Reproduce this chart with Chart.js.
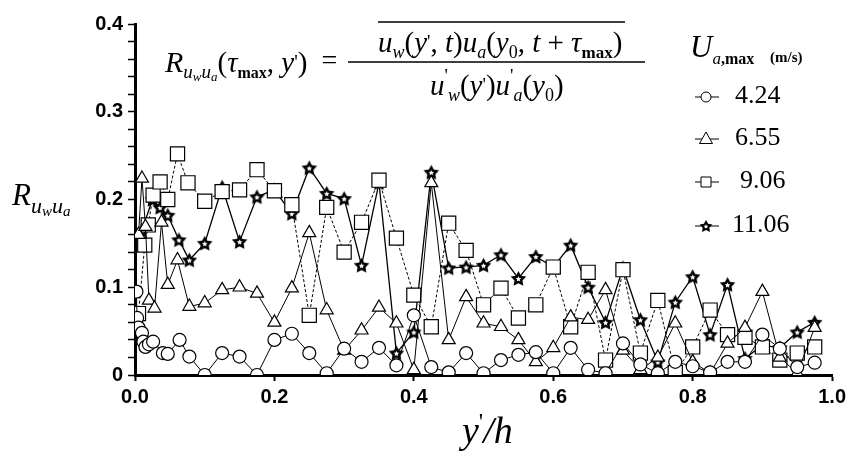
<!DOCTYPE html>
<html>
<head>
<meta charset="utf-8">
<script src="https://cdn.jsdelivr.net/npm/chart.js@4.4.0/dist/chart.umd.min.js"></script>
<style>
  html, body { margin: 0; padding: 0; background: #fff; }
  #wrap { width: 850px; height: 454px; }
</style>
</head>
<body>
<div id="wrap"><canvas id="myCharts" width="850" height="454"></canvas></div>
<script>
const seriesLabels = ["4.24", "6.55", "9.06", "11.06"];
const xTicks = [0, 0.2, 0.4, 0.6, 0.8, 1.0];
const yTicks = [0, 0.1, 0.2, 0.3, 0.4];

const xCircle = [0.002, 0.003, 0.005, 0.01, 0.012, 0.015, 0.02, 0.026, 0.04, 0.047, 0.064, 0.078, 0.1, 0.125, 0.15, 0.175, 0.2, 0.225, 0.25, 0.275, 0.3, 0.325, 0.35, 0.375, 0.4, 0.425, 0.45, 0.475, 0.5, 0.525, 0.55, 0.575, 0.6, 0.625, 0.65, 0.675, 0.7, 0.725, 0.75, 0.775, 0.8, 0.825, 0.85, 0.875, 0.9, 0.925, 0.95, 0.975];
const yCircle = [0.095, 0.065, 0.054, 0.048, 0.038, 0.032, 0.035, 0.038, 0.025, 0.024, 0.040, 0.021, 0.0, 0.025, 0.021, 0.0, 0.040, 0.047, 0.025, 0.002, 0.030, 0.015, 0.031, 0.011, 0.068, 0.009, 0.003, 0.025, 0.002, 0.017, 0.023, 0.026, 0.002, 0.031, 0.006, 0.002, 0.036, 0.012, 0.002, 0.015, 0.010, 0.003, 0.015, 0.015, 0.046, 0.030, 0.009, 0.014];

const xTriangle = [0.005, 0.01, 0.015, 0.02, 0.028, 0.038, 0.047, 0.061, 0.078, 0.1, 0.125, 0.15, 0.175, 0.2, 0.225, 0.25, 0.275, 0.3, 0.325, 0.35, 0.375, 0.4, 0.425, 0.45, 0.475, 0.5, 0.525, 0.55, 0.575, 0.6, 0.625, 0.65, 0.675, 0.7, 0.725, 0.75, 0.775, 0.8, 0.825, 0.85, 0.875, 0.9, 0.925, 0.95, 0.975];
const yTriangle = [0.160, 0.224, 0.169, 0.085, 0.076, 0.174, 0.103, 0.131, 0.078, 0.082, 0.097, 0.100, 0.093, 0.060, 0.099, 0.162, 0.074, 0.028, 0.051, 0.077, 0.059, 0.006, 0.219, 0.040, 0.089, 0.059, 0.055, 0.040, 0.015, 0.031, 0.066, 0.063, 0.097, 0.028, 0.006, 0.020, 0.059, 0.015, 0.002, 0.036, 0.054, 0.095, 0.020, 0.002, 0.054];

const xSquare = [0.005, 0.014, 0.019, 0.026, 0.036, 0.047, 0.061, 0.076, 0.1, 0.125, 0.15, 0.175, 0.2, 0.225, 0.25, 0.275, 0.3, 0.325, 0.35, 0.375, 0.4, 0.425, 0.45, 0.475, 0.5, 0.525, 0.55, 0.575, 0.6, 0.625, 0.65, 0.675, 0.7, 0.725, 0.75, 0.775, 0.8, 0.825, 0.85, 0.875, 0.9, 0.925, 0.95, 0.975];
const ySquare = [0.070, 0.148, 0.171, 0.205, 0.220, 0.200, 0.252, 0.219, 0.198, 0.209, 0.211, 0.234, 0.210, 0.194, 0.068, 0.191, 0.140, 0.174, 0.222, 0.156, 0.091, 0.055, 0.173, 0.142, 0.080, 0.099, 0.065, 0.080, 0.123, 0.055, 0.117, 0.017, 0.120, 0.025, 0.085, 0.003, 0.032, 0.074, 0.046, 0.043, 0.032, 0.017, 0.025, 0.032];

const xStar = [0.01, 0.025, 0.036, 0.047, 0.063, 0.078, 0.1, 0.125, 0.15, 0.175, 0.2, 0.225, 0.25, 0.275, 0.3, 0.325, 0.35, 0.375, 0.4, 0.425, 0.45, 0.475, 0.5, 0.525, 0.55, 0.575, 0.6, 0.625, 0.65, 0.675, 0.7, 0.725, 0.75, 0.775, 0.8, 0.825, 0.85, 0.875, 0.9, 0.925, 0.95, 0.975];
const yStar = [0.165, 0.200, 0.191, 0.182, 0.154, 0.131, 0.150, 0.214, 0.152, 0.203, 0.211, 0.184, 0.236, 0.207, 0.201, 0.125, 0.219, 0.025, 0.049, 0.231, 0.122, 0.123, 0.125, 0.137, 0.110, 0.135, 0.123, 0.148, 0.100, 0.060, 0.122, 0.063, 0.015, 0.083, 0.112, 0.046, 0.103, 0.019, 0.034, 0.031, 0.049, 0.060];

const SERIF = '"Liberation Serif", "Times New Roman", serif';
const SANS = '"Liberation Sans", Arial, sans-serif';

function toPoints(xs, ys) {
    return xs.map((x, i) => ({ x: x, y: ys[i] }));
}

function makeStar(size) {
    const c = document.createElement("canvas");
    c.width = size;
    c.height = size;
    const g = c.getContext("2d");
    const r = size / 2;
    const star = function (outer, inner, color) {
        g.beginPath();
        for (let i = 0; i < 10; i++) {
            const a = -Math.PI / 2 + i * Math.PI / 5;
            const rr = i % 2 ? inner : outer;
            g.lineTo(r + rr * Math.cos(a), r + 0.6 + rr * Math.sin(a));
        }
        g.closePath();
        g.fillStyle = color;
        g.fill();
    };
    star(r - 0.3, r * 0.5, "#000");
    star(r * 0.34, r * 0.17, "#fff");
    return c;
}

const starImg = makeStar(17);
const starSmall = makeStar(14);

function drawRuns(ctx, x, base, runs) {
    runs.forEach((run) => {
        ctx.font = run[1] + " " + SERIF;
        ctx.fillText(run[0], x, base + run[2]);
        x += ctx.measureText(run[0]).width;
    });
    return x;
}

const textPlugin = {
    id: "extraText",
    afterDraw(chart) {
        const ctx = chart.ctx;
        ctx.save();
        ctx.fillStyle = "#000";
        ctx.strokeStyle = "#000";
        ctx.textBaseline = "alphabetic";
        ctx.textAlign = "left";

        // formula at the top
        let x = drawRuns(ctx, 165, 72, [
            ["R", "italic 30px", 0], ["u", "italic 19px", 6], ["w", "italic 13px", 9],
            ["u", "italic 19px", 6], ["a", "italic 13px", 9],
            ["(", "29px", 0], ["\u03c4", "italic 29px", 0], ["max", "bold 16px", 6],
            [", ", "29px", 0], ["y", "italic 29px", 0], ["'", "20px", -3], [")", "29px", 0]
        ]);
        drawRuns(ctx, x + 14, 72, [["=", "28px", -3]]);
        drawRuns(ctx, 378, 52, [
            ["u", "italic 29px", 0], ["w", "italic 18px", 6], ["(", "29px", 0],
            ["y", "italic 29px", 0], ["'", "19px", -4], [", ", "29px", 0], ["t", "italic 29px", 0],
            [")", "29px", 0], ["u", "italic 29px", 0], ["a", "italic 18px", 6], ["(", "29px", 0],
            ["y", "italic 29px", 0], ["0", "18px", 6], [", ", "29px", 0], ["t", "italic 29px", 0],
            [" + ", "29px", 0], ["\u03c4", "italic 29px", 0], ["max", "bold 17px", 6], [")", "29px", 0]
        ]);
        drawRuns(ctx, 430, 95, [
            ["u", "italic 29px", 0], ["'", "19px", -13], ["w", "italic 18px", 6], ["(", "29px", 0],
            ["y", "italic 29px", 0], ["'", "19px", -4], [")", "29px", 0],
            ["u", "italic 29px", 0], ["'", "19px", -13], ["a", "italic 18px", 6], ["(", "29px", 0],
            ["y", "italic 29px", 0], ["0", "18px", 6], [")", "29px", 0]
        ]);
        ctx.lineWidth = 1.5;
        ctx.beginPath();
        ctx.moveTo(378, 22); ctx.lineTo(625, 22);
        ctx.moveTo(348, 62); ctx.lineTo(645, 62);
        ctx.stroke();

        // y axis title
        drawRuns(ctx, 12, 205, [
            ["R", "italic 31px", 0], ["u", "italic 22px", 8], ["w", "italic 15px", 11],
            ["u", "italic 22px", 8], ["a", "italic 15px", 11]
        ]);
        // x axis title
        drawRuns(ctx, 462, 443, [["y", "italic 38px", 0], ["'", "24px", -14], ["/", "italic 38px", 0], ["h", "italic 38px", 0]]);

        // legend
        drawRuns(ctx, 690, 57, [["U", "italic 31px", 0], ["a", "italic 17px", 7], [",max", "bold 16px", 7]]);
        drawRuns(ctx, 770, 62, [["(m/s)", "bold 15px", 0]]);
        const rows = [97, 139, 182, 226];
        ctx.lineWidth = 1;
        rows.forEach((y, i) => {
            ctx.beginPath();
            ctx.moveTo(695, y); ctx.lineTo(719, y);
            ctx.stroke();
            ctx.fillStyle = "#fff";
            ctx.beginPath();
            if (i === 0) {
                ctx.arc(706, y, 5, 0, Math.PI * 2);
            } else if (i === 1) {
                ctx.moveTo(706, y - 7); ctx.lineTo(712.5, y + 4.5); ctx.lineTo(699.5, y + 4.5); ctx.closePath();
            } else if (i === 2) {
                ctx.rect(701, y - 5, 10, 10);
            }
            if (i < 3) { ctx.fill(); ctx.stroke(); }
            else { ctx.drawImage(starSmall, 706 - 7, y - 7); }
            ctx.fillStyle = "#000";
            ctx.font = "26px " + SERIF;
            ctx.textBaseline = "middle";
            ctx.fillText(seriesLabels[i], i === 2 ? 740 : (i === 3 ? 732 : 735), y - 1);
            ctx.textBaseline = "alphabetic";
        });
        ctx.restore();
    }
};

const ctx = document.getElementById("myCharts");
const myChart = new Chart(ctx, {
    type: "line",
    data: {
        datasets: [
            { label: seriesLabels[0], data: toPoints(xCircle, yCircle), pointStyle: "circle", pointRadius: 6.5 },
            { label: seriesLabels[1], data: toPoints(xTriangle, yTriangle), pointStyle: "triangle", pointRadius: 7.5 },
            { label: seriesLabels[2], data: toPoints(xSquare, ySquare), pointStyle: "rect", pointRadius: 10, borderDash: [3, 2] },
            { label: seriesLabels[3], data: toPoints(xStar, yStar), pointStyle: starImg, borderWidth: 1.3 }
        ].map((d) => Object.assign({
            borderColor: "#000",
            backgroundColor: "#fff",
            pointBackgroundColor: "#fff",
            pointBorderColor: "#000",
            pointBorderWidth: 1.2,
            borderWidth: 1,
            tension: 0,
            fill: false
        }, d))
    },
    options: {
        responsive: false,
        animation: false,
        events: [],
        layout: { padding: { top: 24, right: 13, left: 0, bottom: 0 } },
        plugins: { legend: { display: false }, tooltip: { enabled: false } },
        scales: {
            x: {
                type: "linear",
                min: 0,
                max: 1,
                border: { display: true, color: "#000", width: 3 },
                grid: { drawOnChartArea: false, color: "#000", tickLength: 6, tickWidth: 2 },
                afterBuildTicks: (scale) => { scale.ticks = xTicks.map((v) => ({ value: v })); },
                ticks: {
                    color: "#000",
                    padding: 4,
                    font: { family: SANS, size: 20, weight: "bold" },
                    callback: (v) => Number(v).toFixed(1)
                },
                afterFit: (scale) => { scale.height = 79; }
            },
            y: {
                type: "linear",
                min: 0,
                max: 0.4,
                border: { display: true, color: "#000", width: 3 },
                grid: { drawOnChartArea: false, color: "#000", tickLength: 7, tickWidth: 1.5 },
                ticks: {
                    stepSize: 0.02,
                    color: "#000",
                    padding: 5,
                    autoSkip: false,
                    font: { family: SANS, size: 20, weight: "bold" },
                    callback: (v) => {
                        const hit = yTicks.find((t) => Math.abs(t - v) < 1e-6);
                        if (hit === undefined) return "";
                        return hit === 0 ? "0" : hit.toFixed(1);
                    }
                },
                afterFit: (scale) => { scale.width = 135; }
            }
        }
    },
    plugins: [textPlugin]
});
</script>
</body>
</html>
